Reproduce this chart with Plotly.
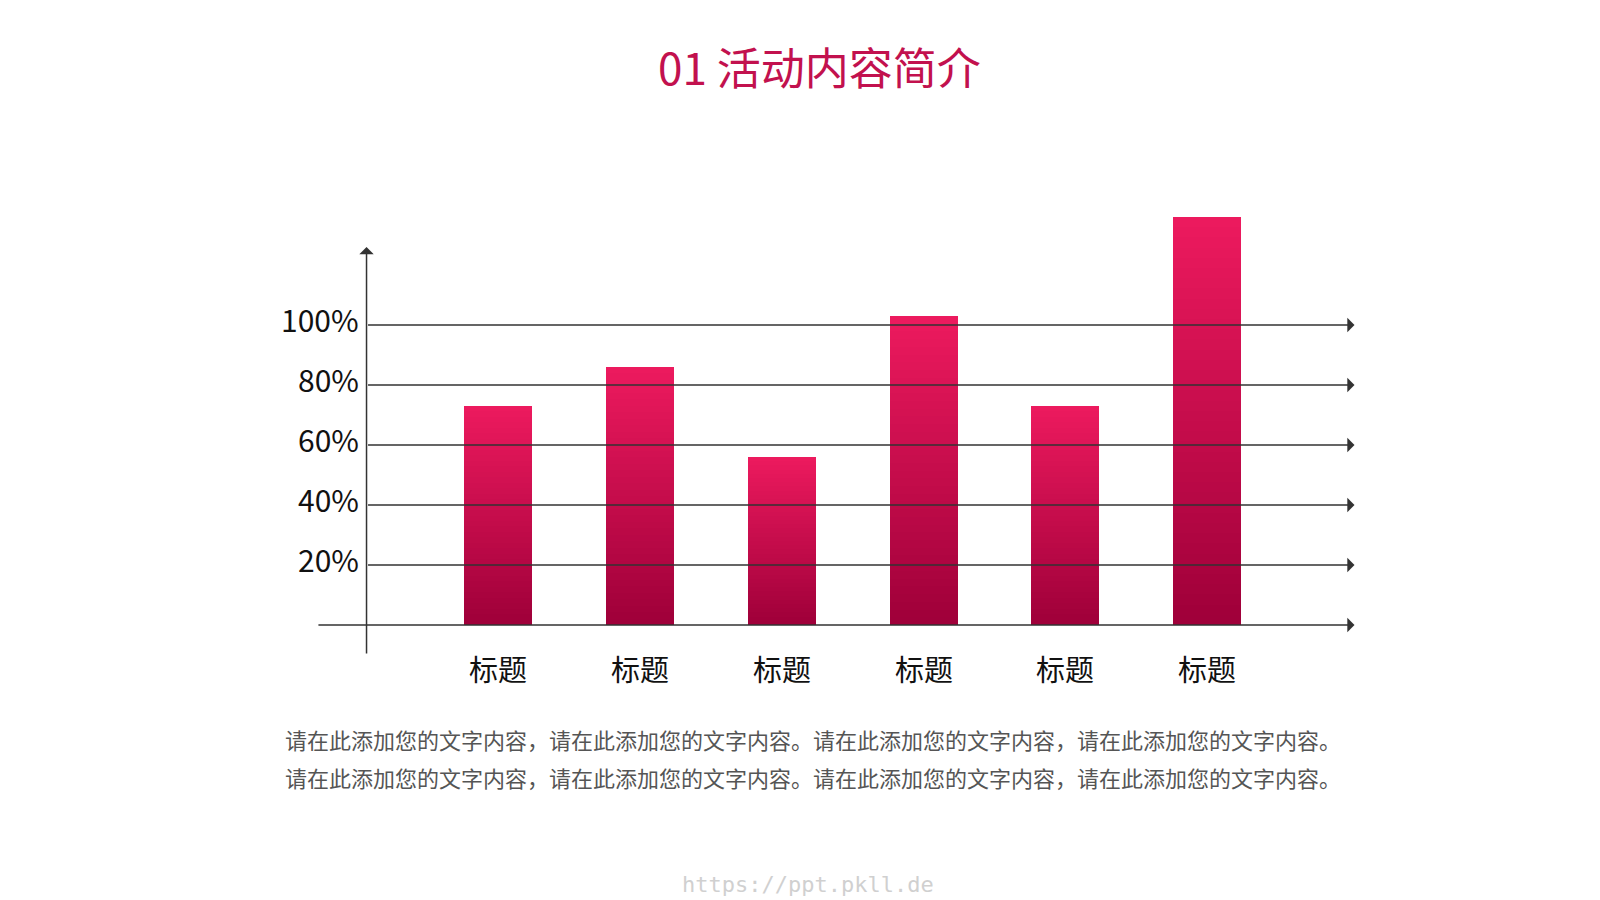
import plotly.graph_objects as go

categories = ["标题", "标题", "标题", "标题", "标题", "标题"]
values = [73, 86, 56, 103, 73, 136]
tick_values = [20, 40, 60, 80, 100]
tick_labels = ["20%", "40%", "60%", "80%", "100%"]
title = "01 活动内容简介"
body = ["请在此添加您的文字内容，请在此添加您的文字内容。请在此添加您的文字内容，请在此添加您的文字内容。"] * 2

FONT = "Noto Sans CJK SC"
N = 40
top_rgb = (236, 26, 94)
bot_rgb = (160, 0, 58)
x = list(range(len(values)))

PT, PB, PL, PW = 197, 653, 299, 1056
def py(pix):
    return (PB - pix) / (PB - PT)
def px(pix):
    return (pix - PL) / PW

fig = go.Figure()
for k in range(N):
    t = k / (N - 1)
    c = tuple(int(bot_rgb[i] + (top_rgb[i] - bot_rgb[i]) * t) for i in range(3))
    fig.add_trace(go.Bar(x=x, y=[v / N for v in values], width=0.48,
                         marker=dict(color="rgb(%d,%d,%d)" % c, line=dict(width=0)),
                         showlegend=False, hoverinfo="skip"))

ann = []
for v in [0] + tick_values:
    ann.append(dict(x=6.04, y=v, ax=-1.28 if v == 0 else -0.93, ay=v, xref="x", yref="y",
                    axref="x", ayref="y", showarrow=True, arrowhead=1, arrowsize=1.6,
                    arrowwidth=1.5, arrowcolor="#333", text=""))
ann.append(dict(x=-0.93, y=126, ax=-0.93, ay=-10, xref="x", yref="y", axref="x", ayref="y",
                showarrow=True, arrowhead=1, arrowsize=1.6, arrowwidth=1.5, arrowcolor="#333", text=""))
for v, lab in zip(tick_values, tick_labels):
    ann.append(dict(x=-0.97, y=v + 2, xref="x", yref="y", text=lab, showarrow=False,
                    xanchor="right", yanchor="middle", font=dict(family=FONT, size=30, color="#111")))
for xi, c in zip(x, categories):
    ann.append(dict(x=xi, y=py(660), xref="x", yref="paper", text=c, showarrow=False,
                    yanchor="middle", font=dict(family=FONT, size=29, color="#111")))
ann.append(dict(x=px(811), y=py(58), xref="paper", yref="paper", text=title, showarrow=False,
                yanchor="middle", font=dict(family=FONT, size=44, color="#c2114e")))
for i, line in enumerate(body):
    ann.append(dict(x=px(805), y=py(731 + 38 * i), xref="paper", yref="paper", text=line,
                    showarrow=False, yanchor="middle", font=dict(family=FONT, size=22, color="#555")))
ann.append(dict(x=px(800), y=py(876), xref="paper", yref="paper", text="https://ppt.pkll.de",
                showarrow=False, yanchor="middle",
                font=dict(family="DejaVu Sans Mono", size=22, color="#d0d0d0")))

fig.update_layout(
    width=1600, height=900, barmode="stack", bargap=0,
    paper_bgcolor="white", plot_bgcolor="white",
    margin=dict(l=PL, r=1600 - PL - PW, t=PT, b=900 - PB),
    xaxis=dict(range=[-1.35, 6.1], visible=False),
    yaxis=dict(range=[-12, 140], visible=False),
    annotations=ann,
)
fig.write_html("out.html")
